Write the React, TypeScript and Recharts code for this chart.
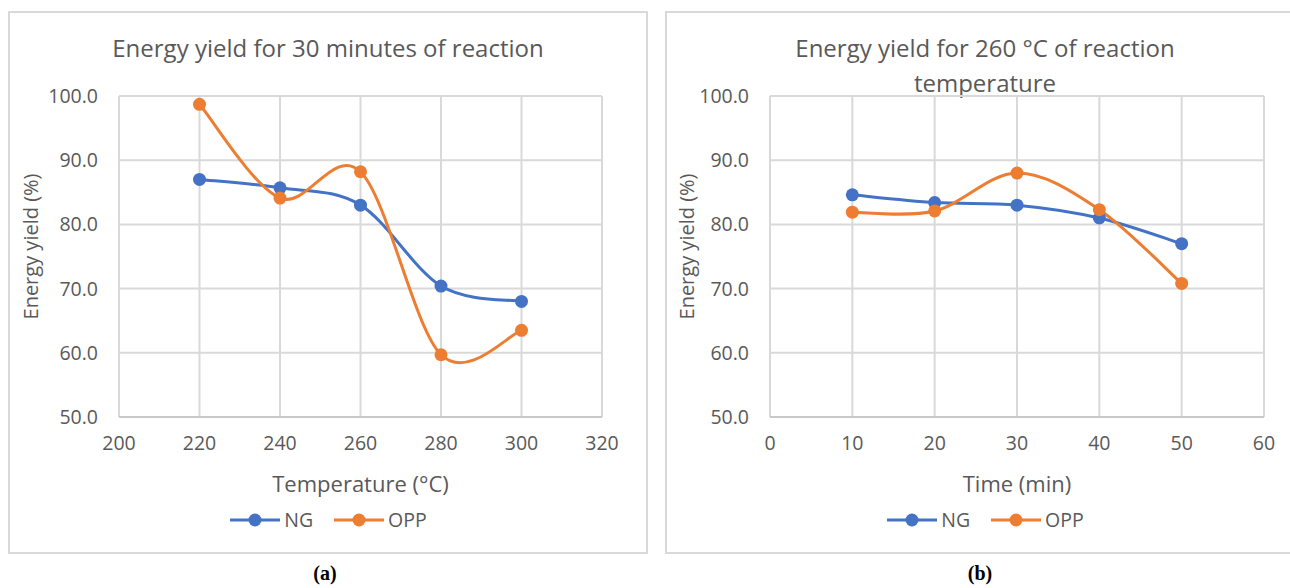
import React from "react";
import { LineChart, Line, XAxis, YAxis, CartesianGrid, Legend, Label } from "recharts";

// (a) energy yield vs. reaction temperature, 30 min
const temperatures = [220, 240, 260, 280, 300];
const ngByTemperature = [87.0, 85.7, 83.0, 70.4, 68.0];
const oppByTemperature = [98.7, 84.1, 88.2, 59.7, 63.5];

// (b) energy yield vs. reaction time, 260 °C
const times = [10, 20, 30, 40, 50];
const ngByTime = [84.6, 83.4, 83.0, 81.0, 77.0];
const oppByTime = [81.9, 82.1, 88.0, 82.3, 70.8];

const temperatureTicks = [200, 220, 240, 260, 280, 300, 320];
const timeTicks = [0, 10, 20, 30, 40, 50, 60];
const yieldTicks = [50, 60, 70, 80, 90, 100];

const FONT = '"Open Sans", "Noto Sans", sans-serif';
const TEXT = "#595959";
const GRID = "#d9d9d9";
const BLUE = "#4472c4";
const ORANGE = "#ed7d31";

// Excel-like smoothed line: Catmull-Rom segments written as cubic Béziers
const excelSmooth = (context: any) => {
  let pts: number[][] = [];
  return {
    areaStart() {},
    areaEnd() {},
    lineStart() {
      pts = [];
    },
    point(x: number, y: number) {
      pts.push([+x, +y]);
    },
    lineEnd() {
      const n = pts.length;
      if (!n) return;
      context.moveTo(pts[0][0], pts[0][1]);
      for (let i = 0; i < n - 1; i++) {
        const p0 = pts[Math.max(i - 1, 0)];
        const p1 = pts[i];
        const p2 = pts[i + 1];
        const p3 = pts[Math.min(i + 2, n - 1)];
        context.bezierCurveTo(
          p1[0] + (p2[0] - p0[0]) / 6,
          p1[1] + (p2[1] - p0[1]) / 6,
          p2[0] - (p3[0] - p1[0]) / 6,
          p2[1] - (p3[1] - p1[1]) / 6,
          p2[0],
          p2[1]
        );
      }
    },
  };
};

const renderLegend = (props: any) => (
  <div
    style={{
      display: "flex",
      justifyContent: "center",
      alignItems: "center",
      gap: 20,
      fontFamily: FONT,
      fontSize: 19.5,
      color: TEXT,
    }}
  >
    {(props.payload || []).map((p: any) => (
      <span key={p.value} style={{ display: "flex", alignItems: "center" }}>
        <svg width={52} height={16}>
          <line x1={1} y1={8} x2={51} y2={8} stroke={p.color} strokeWidth={3} />
          <circle cx={26} cy={8} r={6.5} fill={p.color} />
        </svg>
        <span style={{ marginLeft: 3 }}>{p.value}</span>
      </span>
    ))}
  </div>
);

interface PanelProps {
  left: number;
  openRight?: boolean;
  title: string[];
  xs: number[];
  ng: number[];
  opp: number[];
  xTicks: number[];
  xLabel: string;
  yAxisWidth: number;
  rightMargin: number;
  yLabelX: number;
  caption: string;
  captionX: number;
}

function Panel({
  left,
  openRight,
  title,
  xs,
  ng,
  opp,
  xTicks,
  xLabel,
  yAxisWidth,
  rightMargin,
  yLabelX,
  caption,
  captionX,
}: PanelProps) {
  const data = xs.map((x, i) => ({ x, NG: ng[i], OPP: opp[i] }));
  const W = 636;
  const H = 539;

  return (
    <>
      <div
        style={{
          position: "absolute",
          left,
          top: 11,
          width: 640,
          height: 543,
          boxSizing: "border-box",
          border: `2px solid ${GRID}`,
          borderRight: openRight ? "none" : `2px solid ${GRID}`,
          background: "#fff",
        }}
      >
        <div
          style={{
            position: "absolute",
            left: 0,
            top: 17,
            width: W,
            textAlign: "center",
            fontFamily: FONT,
            fontSize: 24,
            lineHeight: "35px",
            color: TEXT,
          }}
        >
          {title.map((t) => (
            <div key={t}>{t}</div>
          ))}
        </div>
        <LineChart
          width={W}
          height={H}
          data={data}
          margin={{ top: 83, right: rightMargin, bottom: 0, left: 0 }}
        >
          <CartesianGrid stroke={GRID} strokeWidth={2} />
          <XAxis
            dataKey="x"
            type="number"
            domain={[xTicks[0], xTicks[xTicks.length - 1]]}
            ticks={xTicks}
            height={135}
            tickLine={false}
            tickSize={6}
            tickMargin={13}
            axisLine={{ stroke: "#c8c8c8", strokeWidth: 2 }}
            tick={{ fontSize: 19.5, fill: TEXT, fontFamily: FONT }}
          >
            <Label
              content={({ viewBox }: any) => (
                <text
                  x={viewBox.x + viewBox.width / 2}
                  y={viewBox.y + 66}
                  textAnchor="middle"
                  dominantBaseline="central"
                  fontSize={22}
                  fontFamily={FONT}
                  fill={TEXT}
                >
                  {xLabel}
                </text>
              )}
            />
          </XAxis>
          <YAxis
            type="number"
            domain={[50, 100]}
            ticks={yieldTicks}
            width={yAxisWidth}
            tickFormatter={(v: number) => v.toFixed(1)}
            tickLine={false}
            tickSize={6}
            tickMargin={15}
            axisLine={false}
            tick={{ fontSize: 19.5, fill: TEXT, fontFamily: FONT }}
          >
            <Label
              content={({ viewBox }: any) => {
                const cx = viewBox.x + yLabelX;
                const cy = viewBox.y + viewBox.height / 2 - 10;
                return (
                  <text
                    x={cx}
                    y={cy}
                    transform={`rotate(-90 ${cx} ${cy})`}
                    textAnchor="middle"
                    dominantBaseline="central"
                    fontSize={20}
                    fontFamily={FONT}
                    fill={TEXT}
                  >
                    Energy yield (%)
                  </text>
                );
              }}
            />
          </YAxis>
          <Legend
            content={renderLegend}
            layout="horizontal"
            verticalAlign="middle"
            align="center"
            wrapperStyle={{ top: 493, left: 0, width: W }}
          />
          <Line
            dataKey="NG"
            name="NG"
            type={excelSmooth as any}
            stroke={BLUE}
            strokeWidth={3}
            dot={{ r: 6.5, fill: BLUE, stroke: BLUE, strokeWidth: 0 }}
            activeDot={false}
            isAnimationActive={false}
          />
          <Line
            dataKey="OPP"
            name="OPP"
            type={excelSmooth as any}
            stroke={ORANGE}
            strokeWidth={3}
            dot={{ r: 6.5, fill: ORANGE, stroke: ORANGE, strokeWidth: 0 }}
            activeDot={false}
            isAnimationActive={false}
          />
        </LineChart>
      </div>
      <div
        style={{
          position: "absolute",
          left: captionX - 50,
          top: 560,
          width: 100,
          textAlign: "center",
          fontFamily: '"Liberation Serif", "Times New Roman", serif',
          fontWeight: "bold",
          fontSize: 20,
          lineHeight: "26px",
          color: "#000",
        }}
      >
        {caption}
      </div>
    </>
  );
}

export default function App() {
  return (
    <div
      style={{
        position: "absolute",
        left: 0,
        top: 0,
        width: 1290,
        height: 588,
        overflow: "hidden",
        background: "#fff",
      }}
    >
      <Panel
        left={8}
        title={["Energy yield for 30 minutes of reaction"]}
        xs={temperatures}
        ng={ngByTemperature}
        opp={oppByTemperature}
        xTicks={temperatureTicks}
        xLabel="Temperature (°C)"
        yAxisWidth={109}
        rightMargin={44}
        yLabelX={20}
        caption="(a)"
        captionX={325}
      />
      <Panel
        left={665}
        openRight
        title={["Energy yield for 260 °C of reaction", "temperature"]}
        xs={times}
        ng={ngByTime}
        opp={oppByTime}
        xTicks={timeTicks}
        xLabel="Time (min)"
        yAxisWidth={103}
        rightMargin={39}
        yLabelX={19}
        caption="(b)"
        captionX={980}
      />
    </div>
  );
}
